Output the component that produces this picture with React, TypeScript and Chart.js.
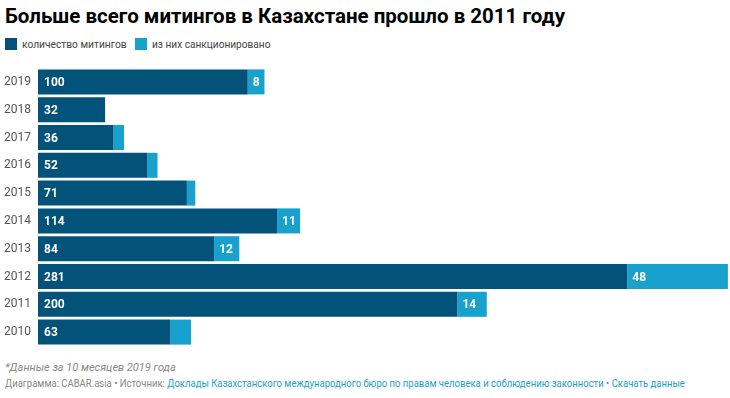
import React, { useEffect, useRef } from "react";
import { Chart, registerables } from "chart.js";

Chart.register(...registerables);

const years = ["2019", "2018", "2017", "2016", "2015", "2014", "2013", "2012", "2011", "2010"];
const rallies = [100, 32, 36, 52, 71, 114, 84, 281, 200, 63];
const sanctioned = [8, 0, 5, 5, 4, 11, 12, 48, 14, 10];
const sanctionedLabels = ["8", "", "", "", "", "11", "12", "48", "14", ""];
const seriesNames = ["количество митингов", "из них санкционировано"];

const DARK = "#02527a";
const LIGHT = "#19a1cd";
const FONT = "Roboto, 'Noto Sans', sans-serif";

const labelPlugin = {
  id: "barLabels",
  afterDatasetsDraw(chart: any) {
    const ctx = chart.ctx;
    ctx.save();
    ctx.fillStyle = "#ffffff";
    ctx.font = `bold 12px ${FONT}`;
    ctx.textBaseline = "middle";
    ctx.textAlign = "left";
    chart.getDatasetMeta(0).data.forEach((bar: any, i: number) => {
      ctx.fillText(String(rallies[i]), bar.base + 6, bar.y + 1);
    });
    chart.getDatasetMeta(1).data.forEach((bar: any, i: number) => {
      const t = sanctionedLabels[i];
      if (t) ctx.fillText(t, bar.base + 5, bar.y + 1);
    });
    ctx.restore();
  },
};

export default function App() {
  const ref = useRef<HTMLCanvasElement>(null);
  useEffect(() => {
    document.body.style.margin = "0";
    const chart = new Chart(ref.current!, {
      type: "bar",
      data: {
        labels: years,
        datasets: [
          { label: seriesNames[0], data: rallies, backgroundColor: DARK, borderWidth: 0 },
          { label: seriesNames[1], data: sanctioned, backgroundColor: LIGHT, borderWidth: 0 },
        ],
      },
      options: {
        indexAxis: "y",
        animation: false,
        responsive: false,
        maintainAspectRatio: false,
        layout: { padding: 0 },
        datasets: { bar: { categoryPercentage: 0.9, barPercentage: 1 } },
        plugins: { legend: { display: false }, tooltip: { enabled: false } },
        scales: {
          x: { stacked: true, display: false, min: 0, max: 330 },
          y: {
            stacked: true,
            grid: { display: false, drawTicks: false },
            border: { display: false },
            afterFit: (s: any) => {
              s.width = 38;
              s.paddingTop = 0;
              s.paddingBottom = 0;
            },
            ticks: {
              padding: 7,
              color: "#555",
              font: { family: FONT, size: 12 },
            },
          },
        },
      },
      plugins: [labelPlugin],
    });
    return () => chart.destroy();
  }, []);

  const sq = (c: string) => (
    <span style={{ display: "inline-block", width: 12, height: 12, background: c, marginRight: 5, verticalAlign: -2 }} />
  );

  return (
    <div style={{ position: "relative", width: 730, height: 398, fontFamily: FONT, overflow: "hidden", background: "#fff" }}>
      <div style={{ position: "absolute", left: 5, top: 4, fontSize: 20.5, fontWeight: 700, color: "#000", whiteSpace: "nowrap" }}>
        Больше всего митингов в Казахстане прошло в 2011 году
      </div>
      <div style={{ position: "absolute", left: 5, top: 38, fontSize: 11, color: "#444", whiteSpace: "nowrap" }}>
        {sq(DARK)}
        <span style={{ display: "inline-block", width: 113, transform: "scaleX(0.93)", transformOrigin: "left" }}>{seriesNames[0]}</span>
        {sq(LIGHT)}
        <span style={{ display: "inline-block", transform: "scaleX(0.92)", transformOrigin: "left" }}>{seriesNames[1]}</span>
      </div>
      <canvas ref={ref} width={730} height={278} style={{ position: "absolute", left: 0, top: 68 }} />
      <div style={{ position: "absolute", left: 5, top: 361, fontSize: 11, fontStyle: "italic", color: "#888", whiteSpace: "nowrap" }}>
        *Данные за 10 месяцев 2019 года
      </div>
      <div style={{ position: "absolute", left: 5, top: 377, fontSize: 11, color: "#888", whiteSpace: "nowrap", transform: "scaleX(0.865)", transformOrigin: "left" }}>
        Диаграмма: CABAR.asia • Источник: <span style={{ color: "#1a9fcf" }}>Доклады Казахстанского международного бюро по правам человека и соблюдению законности</span> • <span style={{ color: "#1a9fcf" }}>Скачать данные</span>
      </div>
    </div>
  );
}
